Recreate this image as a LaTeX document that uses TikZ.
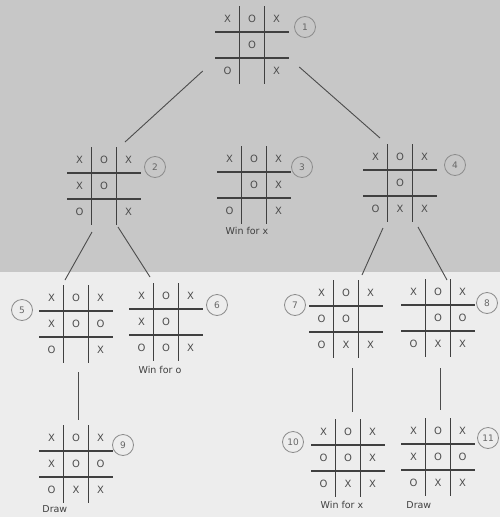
\documentclass[tikz,border=0pt]{standalone}
\usepackage{fontspec}
\setmainfont{DejaVu Sans}
\usetikzlibrary{matrix,positioning}

\begin{document}
\begin{tikzpicture}[x=1pt,y=-1pt,font=\fontsize{10}{12}\selectfont,
  board/.style={matrix of nodes,nodes in empty cells,inner sep=0pt,outer sep=0pt,
    nodes={anchor=center,minimum width=24.5pt,minimum height=26pt,inner sep=0pt,text=black!70}},
  gridline/.style={black!75,line width=1.1pt},
  link/.style={black!70,line width=0.9pt},
  num/.style={circle,draw=black!45,line width=0.8pt,minimum size=21pt,inner sep=0pt,
    font=\fontsize{9}{10}\selectfont,text=black!60},
  note/.style={inner sep=0pt,text=black!75,font=\fontsize{9.5}{11}\selectfont}]
\useasboundingbox (0,0) rectangle (500,517);
\fill[black!22] (0,0) rectangle (500,272);
\fill[black!7] (0,272) rectangle (500,517);

\matrix (b1) [board] at (252,45) {X & O & X\\ & O & \\ O & & X\\};
\matrix (b2) [board] at (104,186) {X & O & X\\ X & O & \\ O & & X\\};
\matrix (b3) [board] at (254,185) {X & O & X\\ & O & X\\ O & & X\\};
\matrix (b4) [board] at (400,183) {X & O & X\\ & O & \\ O & X & X\\};
\matrix (b5) [board] at (76,324) {X & O & X\\ X & O & O\\ O & & X\\};
\matrix (b6) [board] at (166,322) {X & O & X\\ X & O & \\ O & O & X\\};
\matrix (b7) [board] at (346,319) {X & O & X\\ O & O & \\ O & X & X\\};
\matrix (b8) [board] at (438,318) {X & O & X\\ & O & O\\ O & X & X\\};
\matrix (b9) [board] at (76,464) {X & O & X\\ X & O & O\\ O & X & X\\};
\matrix (b10) [board] at (348,458) {X & O & X\\ O & O & X\\ O & X & X\\};
\matrix (b11) [board] at (438,457) {X & O & X\\ X & O & O\\ O & X & X\\};

\foreach \i in {1,...,11}
  \draw[gridline] (b\i-1-2.north west) -- (b\i-3-2.south west)
    (b\i-1-2.north east) -- (b\i-3-2.south east)
    (b\i-2-1.north west) -- (b\i-2-3.north east)
    (b\i-2-1.south west) -- (b\i-2-3.south east);

\node[num] (n1) at ([shift={(53,-18)}]b1) {1};
\node[num] (n2) at ([shift={(51,-19)}]b2) {2};
\node[num] (n3) at ([shift={(48,-18)}]b3) {3};
\node[num] (n4) at ([shift={(55,-18)}]b4) {4};
\node[num] (n5) at ([shift={(-54,-14)}]b5) {5};
\node[num] (n6) at ([shift={(51,-17)}]b6) {6};
\node[num] (n7) at ([shift={(-51,-14)}]b7) {7};
\node[num] (n8) at ([shift={(49,-15)}]b8) {8};
\node[num] (n9) at ([shift={(47,-19)}]b9) {9};
\node[num] (n10) at ([shift={(-55,-16)}]b10) {10};
\node[num] (n11) at ([shift={(50,-19)}]b11) {11};

\draw[link] ([shift={(-12.5,-13)}]b1.south west) -- ([shift={(21,-5)}]b2.north);
\draw[link] ([shift={(10.5,-17)}]b1.south east) -- ([shift={(-20,-6)}]b4.north);
\draw[link] ([shift={(-12,7)}]b2.south) -- ([shift={(-11,-5)}]b5.north);
\draw[link] ([shift={(14,2)}]b2.south) -- ([shift={(-16,-6)}]b6.north);
\draw[link] ([shift={(-17,6)}]b4.south) -- ([shift={(16,-5)}]b7.north);
\draw[link] ([shift={(18,5)}]b4.south) -- ([shift={(9,1)}]b8.north);
\draw[link] ([shift={(2,9)}]b5.south) -- ([shift={(2,-5)}]b9.north);
\draw[link] ([shift={(6,10)}]b7.south) -- ([shift={(4,-7)}]b10.north);
\draw[link] ([shift={(2,11)}]b8.south) -- ([shift={(2,-8)}]b11.north);

\node[note,below=3pt of b3.south,xshift=-7pt] (w3) {Win for x};
\node[note,below=5pt of b6.south,xshift=-6pt] (w6) {Win for o};
\node[note,below=4pt of b10.south,xshift=-6pt] (w10) {Win for x};
\node[note,anchor=north west] (d9) at ([shift={(3,2)}]b9.south west) {Draw};
\node[note,anchor=north west] (d11) at ([shift={(5,5)}]b11.south west) {Draw};
\end{tikzpicture}
\end{document}
